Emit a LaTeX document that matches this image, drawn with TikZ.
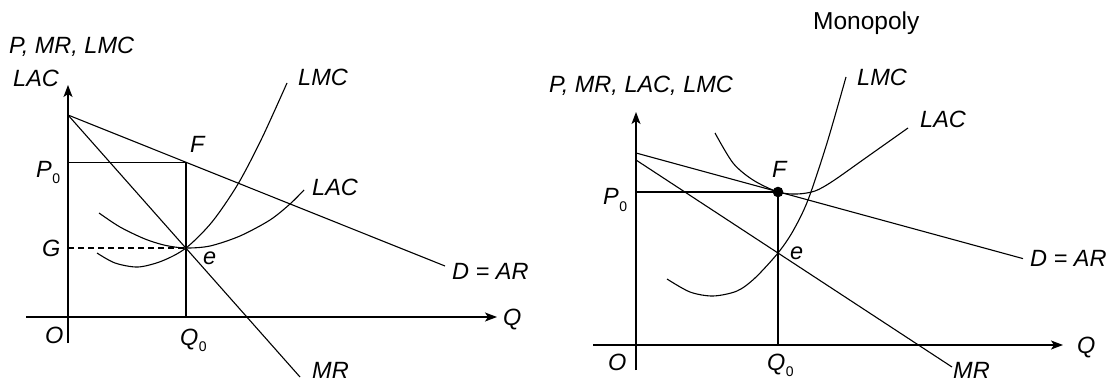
\documentclass[tikz,border=0pt]{standalone}
\usepackage{fontspec}
\setmainfont{Liberation Sans}
\usetikzlibrary{arrows.meta}
\newcommand{\subz}{\kern0.5pt\raisebox{-6pt}{\fontsize{14}{16}\selectfont\upshape 0}}
\begin{document}
\begin{tikzpicture}[x=1pt,y=-1pt,
  lab/.style={inner sep=0pt, anchor=base west, font=\fontsize{23.5}{28}\selectfont\itshape},
  curve/.style={line width=1.1pt},
  axis/.style={line width=1.3pt, -{Stealth[length=12pt,width=9pt,inset=3pt]}},
  guide/.style={line width=1.1pt},
  dot/.style={circle, fill=black, inner sep=0pt, minimum size=10.6pt}
]
\useasboundingbox (0,0) rectangle (1108,382);

% ---------------- left panel ----------------
\coordinate (Lyb) at (68,343);
\coordinate (Lyt) at (68,85);
\coordinate (Lxl) at (26,317);
\coordinate (Lxr) at (497,317);
\coordinate (LA) at (68,115);
\coordinate (LF) at (186,162.6);
\coordinate (LP) at (68,162.6);
\coordinate (LQ) at (186,317);
\coordinate (LG) at (68,248);
\coordinate (Le) at (186,248);
\coordinate (LD) at (445,266);
\coordinate (LMR) at (300,377);

\draw[axis] (Lyb) -- (Lyt);
\draw[axis] (Lxl) -- (Lxr);
\draw[curve] (LA) -- (LD);
\draw[curve] (LA) -- (LMR);
\draw[guide] (LP) -- (LF) -- (LQ);
\draw[guide, dash pattern=on 6pt off 4pt] (LG) -- (Le);
% LMC
\draw[curve] plot[smooth] coordinates {(97,253) (115,263) (138,267) (162,261) (186,248) (212,222) (238,184) (262,138) (287,83)};
% LAC
\draw[curve] plot[smooth] coordinates {(99,213) (120,227) (145,239) (166,245.5) (186,248) (210,246) (240,236) (270,220) (290,204) (304,190)};

\node[lab] (lPMR) at (9,53.4) {P, MR, LMC};
\node[lab] (lLACax) at (13,86.4) {LAC};
\node[lab] (lLMC) at (298,86) {LMC};
\node[lab] (lF) at (190,153) {F};
\node[lab] (lP0) at (36,178) {P\subz};
\node[lab] (lLAC) at (312,195.5) {LAC};
\node[lab] (lG) at (42,256) {G};
\node[lab] (le) at (203,264) {e};
\node[lab] (lO) at (45,343) {O};
\node[lab] (lQ0) at (180,345) {Q\subz};
\node[lab] (lDAR) at (452,279.5) {D = AR};
\node[lab] (lQ) at (503,325) {Q};
\node[lab] (lMR) at (312,378.5) {MR};

% ---------------- right panel ----------------
\coordinate (Ryb) at (636,370);
\coordinate (Ryt) at (636,112);
\coordinate (Rxl) at (593,345);
\coordinate (Rxr) at (1063,345);
\coordinate (RA) at (636,153);
\coordinate (RM) at (636,160);
\coordinate (RF) at (778,192);
\coordinate (RP) at (636,192);
\coordinate (RQ) at (778,345);
\coordinate (Re) at (778,253);
\coordinate (RD) at (1023,258.6);
\coordinate (RMR) at (952,367);

\draw[axis] (Ryb) -- (Ryt);
\draw[axis] (Rxl) -- (Rxr);
\draw[curve] (RA) -- (RD);
\draw[curve] (RM) -- (RMR);
\draw[guide] (RP) -- (RF) -- (RQ);
% LMC
\draw[curve] plot[smooth] coordinates {(667,279) (690,292) (713,296) (737,291) (755,278) (778,253) (793,231) (808,200) (827,143) (846,77)};
% LAC
\draw[curve] plot[smooth] coordinates {(715,133) (733,163) (753,180) (778,192) (797,194) (815,191) (833,181) (867,157) (908,128)};
\node[dot] (RFdot) at (RF) {};

\node[lab, font=\fontsize{24.5}{28}\selectfont] (mono) at (813,30) {Monopoly};
\node[lab] (rPMR) at (549,93) {P, MR, LAC, LMC};
\node[lab] (rLMC) at (857,86) {LMC};
\node[lab] (rLAC) at (920,128) {LAC};
\node[lab] (rF) at (772,178) {F};
\node[lab] (rP0) at (603,205) {P\subz};
\node[lab] (re) at (790,259) {e};
\node[lab] (rDAR) at (1030,266) {D = AR};
\node[lab] (rQ) at (1077,353) {Q};
\node[lab] (rO) at (608,370) {O};
\node[lab] (rQ0) at (767,370) {Q\subz};
\node[lab] (rMR) at (953,378.5) {MR};
\end{tikzpicture}
\end{document}
